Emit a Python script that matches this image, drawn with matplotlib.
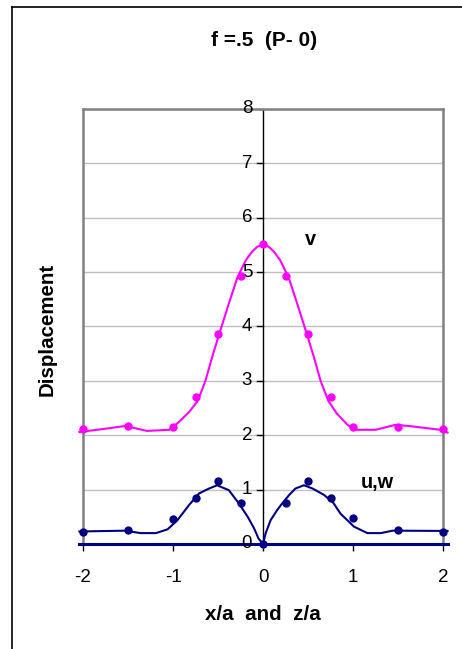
import matplotlib
matplotlib.use("Agg")
import matplotlib.pyplot as plt
from matplotlib.lines import Line2D

plt.rcParams["font.family"] = ["Liberation Sans", "DejaVu Sans"]
plt.rcParams["axes.unicode_minus"] = False

# measured points
x_pts = [-2, -1.5, -1, -0.75, -0.5, -0.25, 0, 0.25, 0.5, 0.75, 1, 1.5, 2]
v_pts = [2.11, 2.17, 2.16, 2.71, 3.86, 4.93, 5.51, 4.93, 3.86, 2.71, 2.16, 2.16, 2.11]
uw_pts = [0.22, 0.26, 0.46, 0.85, 1.16, 0.75, 0.0, 0.75, 1.16, 0.84, 0.47, 0.26, 0.22]

# fitted curves
v_curve_x = [-2.04, -1.75, -1.53, -1.29, -1.04, -0.93, -0.82, -0.73, -0.674, -0.64,
             -0.563, -0.47, -0.378, -0.285, -0.19, -0.12, -0.06, 0.0,
             0.06, 0.12, 0.19, 0.285, 0.378, 0.47, 0.563, 0.64, 0.674, 0.73,
             0.82, 0.94, 1.03, 1.25, 1.47, 1.62, 1.97, 2.05]
v_curve_y = [2.06, 2.12, 2.17, 2.08, 2.1, 2.25, 2.43, 2.62, 2.85, 3.0,
             3.45, 3.95, 4.43, 4.9, 5.22, 5.38, 5.47, 5.5,
             5.47, 5.38, 5.22, 4.9, 4.43, 3.95, 3.45, 3.0, 2.85, 2.62,
             2.4, 2.19, 2.1, 2.1, 2.19, 2.17, 2.1, 2.05]
uw_curve_x = [-2.04, -1.53, -1.36, -1.19, -1.06, -0.95, -0.82, -0.71, -0.6, -0.51,
              -0.38, -0.27, -0.17, -0.1, -0.05, 0.0, 0.03, 0.085, 0.16, 0.215,
              0.29, 0.36, 0.455, 0.55, 0.68, 0.78, 0.86, 1.01, 1.16, 1.31,
              1.44, 2.05]
uw_curve_y = [0.23, 0.245, 0.2, 0.2, 0.27, 0.44, 0.72, 0.93, 1.02, 1.08,
              0.99, 0.75, 0.5, 0.29, 0.1, 0.0, 0.2, 0.44, 0.63, 0.75,
              0.9, 1.02, 1.08, 1.02, 0.9, 0.76, 0.56, 0.32, 0.2, 0.2,
              0.245, 0.24]
zero_x = [-2.04, 2.05]
zero_y = [0, 0]

magenta = "#ff00ff"
navy = "#000080"

fig = plt.figure(figsize=(4.62, 6.49), dpi=100)
ax = fig.add_axes([0.1797, 0.1618, 0.7792, 0.6703])

ax.plot(zero_x, zero_y, color=navy, lw=2.2, clip_on=False, zorder=3)
ax.plot(v_curve_x, v_curve_y, color=magenta, lw=1.5, clip_on=False, zorder=3)
ax.plot(uw_curve_x, uw_curve_y, color=navy, lw=1.5, clip_on=False, zorder=3)
ax.plot(x_pts, v_pts, "o", color=magenta, ms=5, clip_on=False, zorder=4)
ax.plot(x_pts, uw_pts, "o", color=navy, ms=5, clip_on=False, zorder=4)

ax.set_xlim(-2, 2)
ax.set_ylim(0, 8)
ax.set_yticks(range(0, 9))
ax.set_xticks([-2, -1, 0, 1, 2])
ax.grid(axis="y", color="#c0c0c0", lw=1)
ax.set_axisbelow(True)

for side in ["left", "right", "top"]:
    ax.spines[side].set_color("#808080")
    ax.spines[side].set_linewidth(1.8)
ax.spines["bottom"].set_visible(False)

# y axis drawn through x = 0
ax.axvline(0, color="black", lw=1, zorder=2)
ax.tick_params(axis="y", length=0, labelleft=False)
for val in range(0, 9):
    ax.plot([-0.07, 0], [val, val], color="black", lw=1, clip_on=False, zorder=2)
    ax.text(-0.12, val, str(val), ha="right", va="center", fontsize=13.5)
ax.tick_params(axis="x", direction="out", length=5, width=1, color="black",
               labelsize=13.5, pad=13)

ax.set_xlabel("x/a  and  z/a", fontsize=14.8, fontweight="bold", labelpad=14)
fig.text(0.102, 0.493, "Displacement", rotation=90, ha="center", va="center",
         fontsize=14.8, fontweight="bold")
fig.text(0.571, 0.937, "f =.5  (P- 0)", ha="center", va="center",
         fontsize=15, fontweight="bold")

ax.text(0.53, 5.6, "v", fontsize=14.3, fontweight="bold", ha="center", va="center")
ax.text(1.27, 1.14, "u,w", fontsize=14.3, fontweight="bold", ha="center", va="center")

# outer frame (left and top edges)
fig.add_artist(Line2D([12 / 462, 12 / 462], [0, 1 - 7 / 649], color="black", lw=1.2,
                      transform=fig.transFigure))
fig.add_artist(Line2D([12 / 462, 1], [1 - 7 / 649, 1 - 7 / 649], color="black", lw=1.2,
                      transform=fig.transFigure))

fig.savefig("out.png", dpi=100)
